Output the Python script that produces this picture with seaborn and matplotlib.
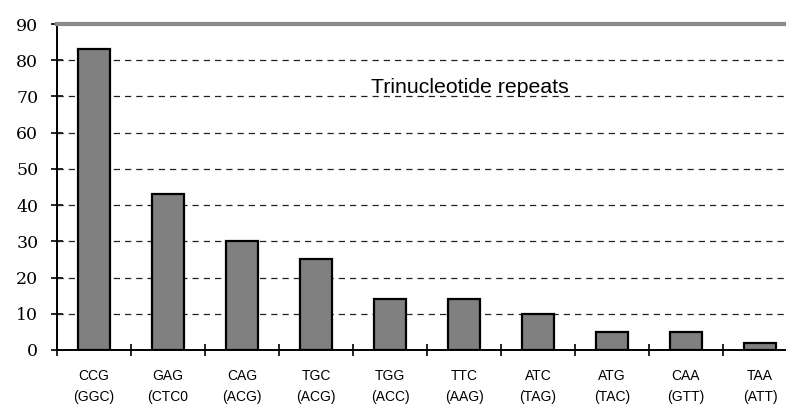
import matplotlib
matplotlib.use("Agg")
import matplotlib.pyplot as plt
import pandas as pd
import seaborn as sns

# Data
codons = ["CCG", "GAG", "CAG", "TGC", "TGG", "TTC", "ATC", "ATG", "CAA", "TAA"]
complements = ["(GGC)", "(CTC0", "(ACG)", "(ACG)", "(ACC)", "(AAG)", "(TAG)", "(TAC)", "(GTT)", "(ATT)"]
counts = [83, 43, 30, 25, 14, 14, 10, 5, 5, 2]
y_ticks = [0, 10, 20, 30, 40, 50, 60, 70, 80, 90]

df = pd.DataFrame({"codon": codons, "count": counts})

sns.set_style("white")
plt.rcParams["text.color"] = "black"
plt.rcParams["xtick.color"] = "black"
plt.rcParams["ytick.color"] = "black"

fig = plt.figure(figsize=(7.86, 4.05), dpi=100)
ax = fig.add_axes([57 / 786, 55 / 405, 740 / 786, 326 / 405])

sns.barplot(data=df, x="codon", y="count", color="#808080", saturation=1,
            width=0.44, edgecolor="black", linewidth=1.6, ax=ax, zorder=3)

ax.set_ylim(0, 90)
ax.set_xlim(-0.5, 9.5)

# dashed gridlines
for v in y_ticks[1:-1]:
    ax.axhline(v, color="#222222", lw=0.9, ls=(0, (5, 4)), zorder=1)

# y axis
ax.set_yticks(y_ticks)
ax.set_yticklabels([str(v) for v in y_ticks], family="DejaVu Serif", fontsize=12.5)
ax.tick_params(axis="y", direction="inout", length=9, width=1.2, pad=9, left=True)

# x axis: ticks at boundaries, labels at centers
ax.set_xticks([i - 0.5 for i in range(len(codons) + 1)])
ax.set_xticklabels([])
ax.set_xticks(range(len(codons)), minor=True)
ax.set_xticklabels([c + "\n" + p for c, p in zip(codons, complements)], minor=True,
                   family="Liberation Sans", fontsize=10, linespacing=1.6)
ax.tick_params(axis="x", which="major", direction="inout", length=8, width=1.2, bottom=True)
ax.tick_params(axis="x", which="minor", length=0, pad=14)

ax.set_xlabel("")
ax.set_ylabel("")

for s in ["left", "bottom"]:
    ax.spines[s].set_color("black")
    ax.spines[s].set_linewidth(1.4)
ax.spines["right"].set_visible(False)
ax.spines["top"].set_color("#8a8a8a")
ax.spines["top"].set_linewidth(3)

ax.text(5.08, 72.6, "Trinucleotide repeats", ha="center", va="center",
        family="Liberation Sans", fontsize=15.3, color="black", zorder=4)

fig.savefig("out.png", dpi=100)
